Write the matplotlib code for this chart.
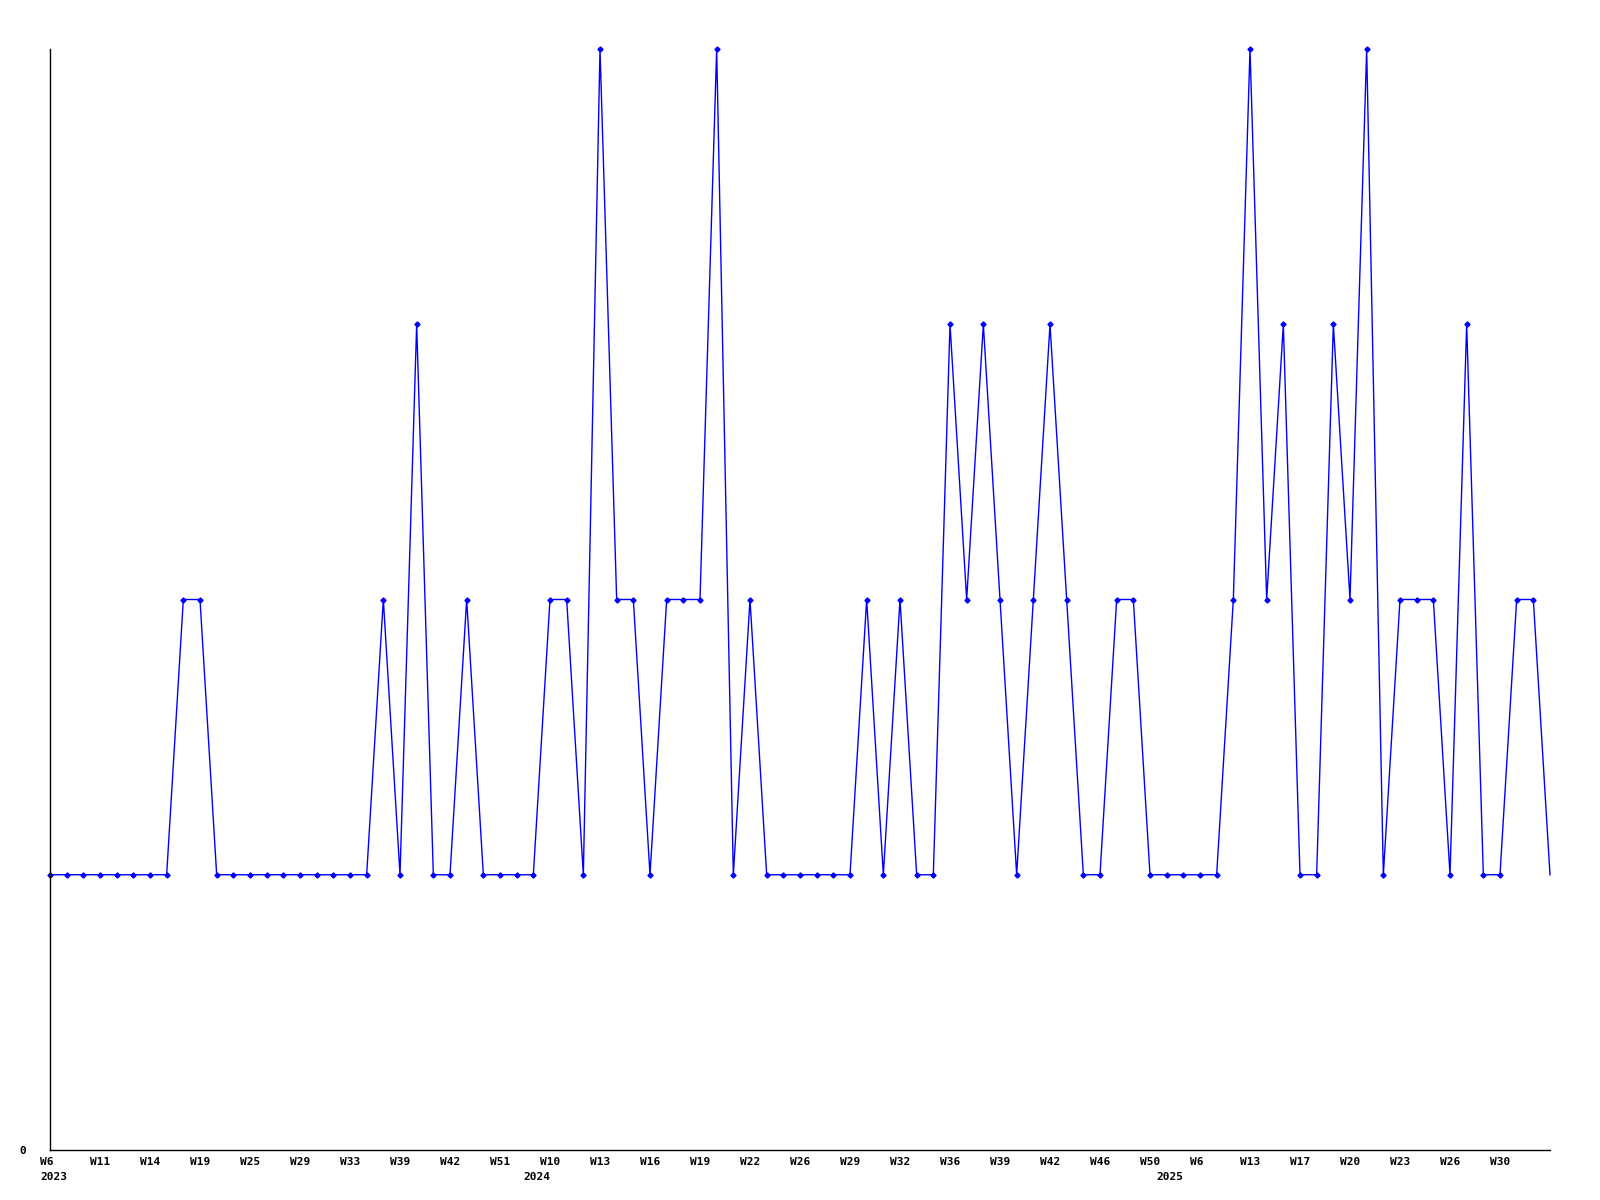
import numpy as np
import matplotlib
matplotlib.use("Agg")
import matplotlib.pyplot as plt
import matplotlib.transforms as mtransforms

# weekly counts, one point per week with data
counts = [1, 1, 1, 1, 1, 1, 1, 1, 2, 2,
          1, 1, 1, 1, 1, 1, 1, 1, 1, 1,
          2, 1, 3, 1, 1, 2, 1, 1, 1, 1,
          2, 2, 1, 4, 2, 2, 1, 2, 2, 2,
          4, 1, 2, 1, 1, 1, 1, 1, 1, 2,
          1, 2, 1, 1, 3, 2, 3, 2, 1, 2,
          3, 2, 1, 1, 2, 2, 1, 1, 1, 1,
          1, 2, 4, 2, 3, 1, 1, 3, 2, 4,
          1, 2, 2, 2, 1, 3, 1, 1, 2, 2,
          1]

week_labels = ["W6", "W11", "W14", "W19", "W25", "W29", "W33", "W39", "W42", "W51",
               "W10", "W13", "W16", "W19", "W22", "W26", "W29", "W32", "W36", "W39",
               "W42", "W46", "W50", "W6", "W13", "W17", "W20", "W23", "W26", "W30"]
week_label_pos = list(range(0, 90, 3))

year_labels = ["2023", "2024", "2025"]
year_pos = [0, 29, 67]

fig = plt.figure(figsize=(16, 12), dpi=100)
ax = fig.add_axes([50 / 1600, 50 / 1200, 1500 / 1600, 1101 / 1200])

x = np.arange(len(counts))
ax.plot(x, counts, color="#0000ff", linewidth=1.0, clip_on=False)
ax.plot(x[:-1], counts[:-1], linestyle="none", marker="D", markersize=2.6,
        color="#0000ff", clip_on=False)

ax.set_xlim(0, len(counts) - 1)
ax.set_ylim(0, 4)

for s in ["top", "right"]:
    ax.spines[s].set_visible(False)
ax.spines["left"].set_linewidth(1)
ax.spines["bottom"].set_linewidth(1)

ax.set_xticks([])
ax.set_yticks([0])
ax.set_yticklabels(["0"], family="DejaVu Sans Mono", fontweight="bold", fontsize=8)
ax.tick_params(axis="y", length=0, pad=17)

font = dict(family="DejaVu Sans Mono", fontweight="bold", fontsize=8)
shift = mtransforms.ScaledTranslation(-10 / 100, 0, fig.dpi_scale_trans)
trans = mtransforms.blended_transform_factory(ax.transData, ax.transAxes) + shift

for p, lab in zip(week_label_pos, week_labels):
    ax.text(p, -0.006, lab, transform=trans, ha="left", va="top", **font)
for p, lab in zip(year_pos, year_labels):
    ax.text(p, -0.020, lab, transform=trans, ha="left", va="top", **font)

fig.savefig("out.png", dpi=100, facecolor="white")
